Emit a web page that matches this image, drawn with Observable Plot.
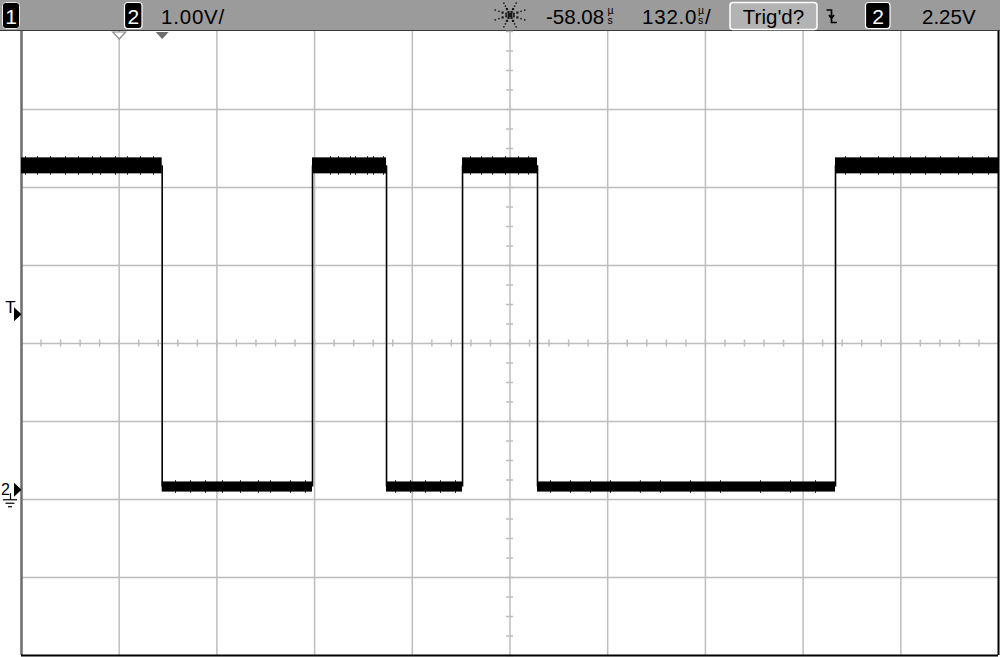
<!DOCTYPE html>
<html><head><meta charset="utf-8">
<script src="https://cdn.jsdelivr.net/npm/d3@7"></script>
<script src="https://cdn.jsdelivr.net/npm/@observablehq/plot@0.6"></script>
<style>
body{margin:0;background:#fff;width:1000px;height:657px;overflow:hidden;font-family:"Liberation Sans",Arial,sans-serif}
svg{display:block}
#hdr text{font-family:"Liberation Sans",Arial,sans-serif}
</style></head><body>
<svg id="hdr" width="1000" height="31">
  <rect x="0" y="0" width="1000" height="31" fill="#9b9b9b"/>
  <line x1="0" x2="1000" y1="30.5" y2="30.5" stroke="#3a3a3a" stroke-width="1"/>
  <rect x="2.5" y="2.5" width="17" height="26" rx="3" fill="#000" stroke="#e8e8e8" stroke-width="1"/>
  <text x="11" y="23.5" fill="#fff" font-size="21" text-anchor="middle">1</text>
  <rect x="124.5" y="2.5" width="17.5" height="26" rx="3" fill="#000" stroke="#fff" stroke-width="1.2"/>
  <text x="133.3" y="23.5" fill="#fff" font-size="21" text-anchor="middle">2</text>
  <text x="161" y="23.5" fill="#000" font-size="20.5" letter-spacing="0.8">1.00V/</text>
  <g id="spark" fill="#1a1a1a"></g>
  <text x="546" y="23.5" fill="#000" font-size="20.5">-58.08</text>
  <text x="607.5" y="14" fill="#000" font-size="10.5">µ</text>
  <text x="607.5" y="24" fill="#000" font-size="10.5">s</text>
  <text x="642" y="23.5" fill="#000" font-size="20.5" letter-spacing="0.8">132.0</text>
  <text x="698" y="14" fill="#000" font-size="10.5">µ</text>
  <text x="698" y="24" fill="#000" font-size="10.5">s</text>
  <text x="705" y="23.5" fill="#000" font-size="20.5">/</text>
  <rect x="730" y="2.5" width="87" height="27" rx="3" fill="#b3b3b3" stroke="#fff" stroke-width="1.5"/>
  <text x="773.5" y="23.5" fill="#000" font-size="20.5" text-anchor="middle">Trig'd?</text>
  <path d="M826.5,10 H831.5 V22.5 H837 M829,15 L831.5,18.5 L834,15" fill="none" stroke="#000" stroke-width="1.7"/>
  <rect x="865.5" y="2.5" width="24.5" height="26" rx="3" fill="#000" stroke="#fff" stroke-width="1.2"/>
  <text x="878" y="23.5" fill="#fff" font-size="21" text-anchor="middle">2</text>
  <text x="922" y="23.5" fill="#000" font-size="20.5">2.25V</text>
</svg>
<div id="chart"></div>
<script>
// ---- scope settings (from header) ----
const voltsPerDiv = 1.00;
const timePerDiv = 132.0;     // µs / div
const delay = -58.08;         // µs, time reference (hollow marker)
const trigLevel = 2.25;       // V
const offset = 1.875;         // V at screen centre
// ---- channel 2 waveform ----
const edgeTimes = [0, 203.1, 303.1, 405.8, 507.1, 909.7];          // µs
const segmentStates = ["high", "low", "high", "low", "high", "low", "high"];
const highBand = [4.05, 4.255];    // V, noise envelope of high level
const lowBand = [-0.03, 0.10];     // V, noise envelope of low level
const highSpikeRange = [4.03, 4.272];
const lowSpikeRange = [-0.048, 0.118];
const highSpikeTimes = [-184.7, -168.5, -150.9, -130.6, -113.1, -94.2, -83.3, -63.1, -46.9, -29.3, -11.7,
  227.4, 238.2, 254.4, 261.2, 277.4, 285.5, 299.0,
  416.6, 431.5, 446.4, 463.9, 481.5, 495.0,
  923.2, 943.5, 967.8, 988.1, 1011.1, 1031.4, 1051.6, 1076.0, 1094.9, 1116.5];
const lowSpikeTimes = [18.0, 38.3, 58.5, 81.5, 105.8, 130.1, 146.3, 173.4, 193.6,
  315.2, 335.5, 355.8, 376.0, 396.3,
  524.6, 551.7, 578.7, 605.7, 646.1, 673.3, 713.8, 754.3, 808.4, 848.9, 882.7];

// ---- derived ----
const xMin = delay - timePerDiv, xMax = delay + 9 * timePerDiv;
const yMin = offset - 4 * voltsPerDiv, yMax = offset + 4 * voltsPerDiv;
const W = 1000, H = 626, mL = 21, mR = 2, mT = 0, mB = 2;
const tpp = (xMax - xMin) / (W - mL - mR);   // µs per px
const vpp = (yMax - yMin) / (H - mT - mB);   // V per px
const xC = delay + 4 * timePerDiv;

const starts = [xMin, ...edgeTimes], ends = [...edgeTimes, xMax];
const segments = segmentStates.map((s, i) => ({
  start: starts[i], end: ends[i],
  lo: s === "high" ? highBand[0] : lowBand[0],
  hi: s === "high" ? highBand[1] : lowBand[1]
}));
const midHigh = (highBand[0] + highBand[1]) / 2, midLow = (lowBand[0] + lowBand[1]) / 2;

const vGrid = d3.range(1, 10).map(k => xMin + k * timePerDiv);
const hGrid = d3.range(1, 8).map(k => yMin + k * voltsPerDiv);
const minorX = d3.range(0, 51).map(k => xMin + k * timePerDiv / 5);
const minorY = d3.range(0, 33).map(k => yMin + k * voltsPerDiv / 4);

const downTri = {draw(c) { c.moveTo(-6.5, 0.5); c.lineTo(6.5, 0.5); c.lineTo(0, 7.5); c.closePath(); }};
const rightTri = {draw(c) { c.moveTo(-7.5, -7); c.lineTo(0, 0); c.lineTo(-7.5, 7); c.closePath(); }};
const gridColor = "#bdbdbd";
const ff = "Liberation Sans, Arial, sans-serif";

const chart = Plot.plot({
  width: W, height: H,
  marginLeft: mL, marginRight: mR, marginTop: mT, marginBottom: mB,
  x: {domain: [xMin, xMax], axis: null},
  y: {domain: [yMin, yMax], axis: null},
  style: {background: "#fff", overflow: "visible"},
  marks: [
    Plot.ruleX(vGrid, {stroke: gridColor, strokeWidth: 1.5}),
    Plot.ruleY(hGrid, {stroke: gridColor, strokeWidth: 1.5}),
    Plot.ruleX(minorX, {x: d => d, y1: offset - 3.5 * vpp, y2: offset + 3.5 * vpp, stroke: gridColor, strokeWidth: 1.5}),
    Plot.ruleY(minorY, {y: d => d, x1: xC - 3.5 * tpp, x2: xC + 3.5 * tpp, stroke: gridColor, strokeWidth: 1.5}),
    // borders
    Plot.ruleX([xMin], {stroke: "#6c6c6c", strokeWidth: 2.5}),
    Plot.ruleX([xMax], {stroke: "#000", strokeWidth: 2}),
    Plot.ruleY([yMin], {stroke: "#000", strokeWidth: 2}),
    // waveform
    Plot.rect(segments, {x1: "start", x2: "end", y1: "lo", y2: "hi", fill: "#000"}),
    Plot.ruleX(edgeTimes, {x: d => d, y1: midLow, y2: midHigh, stroke: "#000", strokeWidth: 1.6}),
    Plot.ruleX(highSpikeTimes, {x: d => d, y1: highSpikeRange[0], y2: highSpikeRange[1], stroke: "#000", strokeWidth: 0.8}),
    Plot.ruleX(lowSpikeTimes, {x: d => d, y1: lowSpikeRange[0], y2: lowSpikeRange[1], stroke: "#000", strokeWidth: 0.8}),
    // top markers: time reference and trigger point
    Plot.dot([delay], {x: d => d, y: () => yMax, symbol: downTri, fill: "#fff", stroke: "#8c8c8c", strokeWidth: 1.2}),
    Plot.dot([0], {x: d => d, y: () => yMax, symbol: downTri, fill: "#6e6e6e", stroke: "none"}),
    // left markers: trigger level and channel 2 ground
    Plot.dot([trigLevel], {x: () => xMin, y: d => d, symbol: rightTri, fill: "#000", stroke: "none"}),
    Plot.text([trigLevel], {x: () => xMin, y: d => d, text: () => "T", dx: -11, dy: -7, fontSize: 17, fill: "#000", fontFamily: ff}),
    Plot.dot([0], {x: () => xMin, y: d => d, symbol: rightTri, fill: "#000", stroke: "none"}),
    Plot.text([0], {x: () => xMin, y: d => d, text: () => "2", dx: -16, dy: 0, fontSize: 16, fill: "#000", fontFamily: ff}),
    Plot.ruleX([0], {x: () => xMin - 11 * tpp, y1: d => d - 4 * vpp, y2: d => d - 10 * vpp, stroke: "#000", strokeWidth: 1.2}),
    Plot.ruleY([0], {y: d => d - 10 * vpp, x1: () => xMin - 18 * tpp, x2: () => xMin - 4 * tpp, stroke: "#000", strokeWidth: 1.2}),
    Plot.ruleY([0], {y: d => d - 13.5 * vpp, x1: () => xMin - 15.5 * tpp, x2: () => xMin - 6.5 * tpp, stroke: "#000", strokeWidth: 1.2}),
    Plot.ruleY([0], {y: d => d - 17 * vpp, x1: () => xMin - 13 * tpp, x2: () => xMin - 9 * tpp, stroke: "#000", strokeWidth: 1.2})
  ]
});
document.getElementById("chart").appendChild(chart);

// header spark logo
const spark = d3.select("#spark");
const cx = 510, cy = 15;
for (let a = 0; a < 8; a++) {
  const ang = a * Math.PI / 4 + Math.PI / 8;
  [4, 8, 12, 16].forEach((r, i) => {
    const s = i < 2 ? 2.2 : 1.5;
    spark.append("rect").attr("x", cx + r * Math.cos(ang) - s / 2).attr("y", cy + r * Math.sin(ang) * 0.8 - s / 2)
      .attr("width", s).attr("height", s);
  });
}
spark.append("rect").attr("x", cx - 2).attr("y", cy - 2).attr("width", 4).attr("height", 4);
</script>
</body></html>
